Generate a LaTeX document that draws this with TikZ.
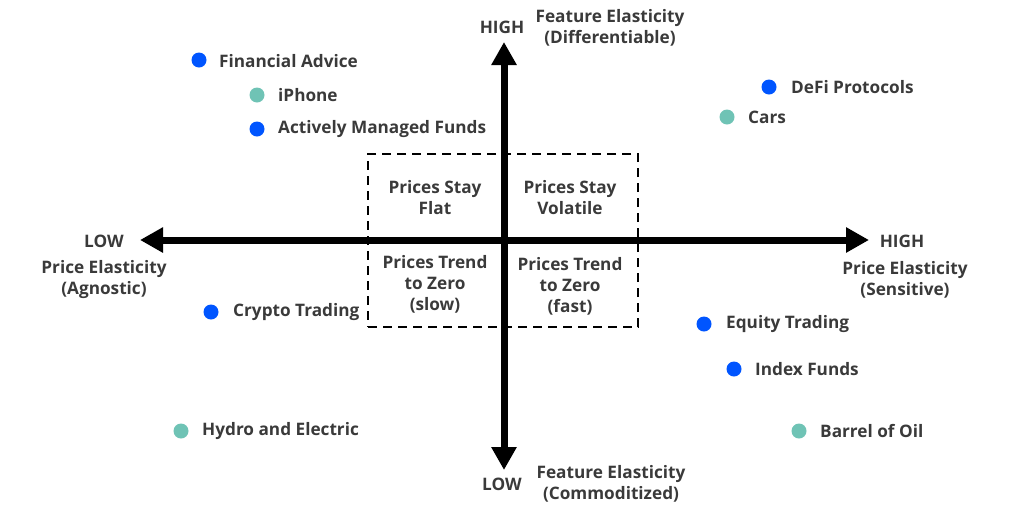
\documentclass[tikz,border=0pt]{standalone}
\usepackage{fontspec}
\setmainfont{Open Sans}
\usetikzlibrary{arrows.meta}
\definecolor{txt}{HTML}{3A3A3A}
\definecolor{dotblue}{HTML}{0055FF}
\definecolor{dotteal}{HTML}{6FC3B5}
\tikzset{
  lbl/.style={font=\bfseries\fontsize{17.2}{21}\selectfont, text=txt, inner sep=0pt, align=center},
  item/.style={font=\bfseries\fontsize{17.2}{21}\selectfont, text=txt, inner sep=0pt, anchor=west},
  bdot/.style={circle, fill=dotblue, minimum size=15pt, inner sep=0pt},
  tdot/.style={circle, fill=dotteal, minimum size=15pt, inner sep=0pt},
  axis/.style={line width=7pt, {Triangle[length=23pt,width=24pt]}-{Triangle[length=23pt,width=24pt]}},
  zone/.style={draw, line width=2.2pt, dash pattern=on 9pt off 6pt}
}
\begin{document}
\begin{tikzpicture}[x=1pt,y=-1pt]
\useasboundingbox (0,0) rectangle (1023,515);
% dashed box
\node[zone, minimum width=270pt, minimum height=173pt, inner sep=0pt] (zonebox) at (503,240.5) {};
% axes
\coordinate (xl) at (140,240);
\coordinate (xr) at (869,240);
\coordinate (yt) at (504,42);
\coordinate (yb) at (504,470);
\draw[axis] (xl) -- (xr);
\draw[axis] (yb) -- (yt);
% axis labels
\node[lbl] (hightop) at (502,27) {HIGH};
\node[lbl] (fetop) at (610,27.5) {Feature Elasticity\\(Differentiable)};
\node[lbl] (lowleft) at (104,241) {LOW};
\node[lbl] (peleft) at (104,280) {Price Elasticity\\(Agnostic)};
\node[lbl] (highright) at (902,241) {HIGH};
\node[lbl] (peright) at (905,280) {Price Elasticity\\(Sensitive)};
\node[lbl] (lowbot) at (502,484) {LOW};
\node[lbl] (febot) at (611,483.5) {Feature Elasticity\\(Commoditized)};
% quadrant texts
\node[lbl] (q1) at (435,197.5) {Prices Stay\\Flat};
\node[lbl] (q2) at (570,197.5) {Prices Stay\\Volatile};
\node[lbl] (q3) at (435,284) {Prices Trend\\to Zero\\(slow)};
\node[lbl] (q4) at (570,286) {Prices Trend\\to Zero\\(fast)};
% items
\node[bdot] (d1) at (199,60) {};
\node[item] (t1) at (219,61) {Financial Advice};
\node[tdot] (d2) at (257,95) {};
\node[item] (t2) at (278,95) {iPhone};
\node[bdot] (d3) at (257,129) {};
\node[item] (t3) at (278,129) {Actively Managed Funds};
\node[bdot] (d4) at (769,87) {};
\node[item] (t4) at (791,87) {DeFi Protocols};
\node[tdot] (d5) at (727,117) {};
\node[item] (t5) at (748,117) {Cars};
\node[bdot] (d6) at (211,312) {};
\node[item] (t6) at (233,312) {Crypto Trading};
\node[bdot] (d7) at (704,324) {};
\node[item] (t7) at (726,324) {Equity Trading};
\node[bdot] (d8) at (734,369) {};
\node[item] (t8) at (755,369) {Index Funds};
\node[tdot] (d9) at (181,431) {};
\node[item] (t9) at (202,431) {Hydro and Electric};
\node[tdot] (d10) at (799,431) {};
\node[item] (t10) at (820,431) {Barrel of Oil};
\end{tikzpicture}
\end{document}
